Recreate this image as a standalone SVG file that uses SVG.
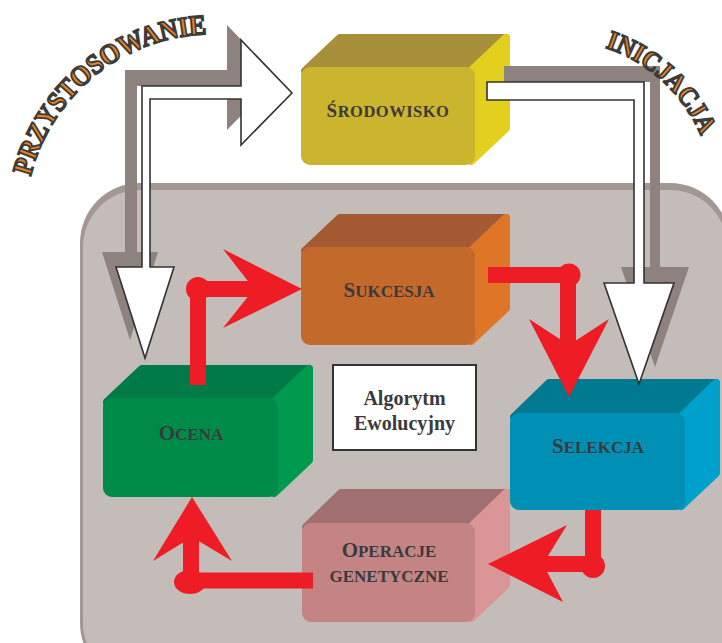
<svg xmlns="http://www.w3.org/2000/svg" width="722" height="643" viewBox="0 0 722 643">
<style>
.f{stroke-width:8;stroke-linejoin:round}
.lbl{font-family:"Liberation Serif","Times New Roman",serif;font-weight:bold;fill:#3a3a3c;text-anchor:middle}
.arc{font-family:"Liberation Serif","Times New Roman",serif;font-weight:bold;fill:#e8801e;stroke:#3b3b3b;stroke-width:1.9}
.wa{fill:#ffffff;stroke:#333333;stroke-width:1.6;stroke-linejoin:miter}
.ga{fill:#8d827e}
.red{fill:#ee1c24}
.rl{fill:none;stroke:#ee1c24;stroke-width:16}
</style>
<defs>
<path id="arcL" d="M 30.6,176.5 A 188,188 0 0,1 206.4,34.1"/>
<path id="arcR" d="M 605.2,47.6 A 156,156 0 0,1 701.6,137.6"/>
</defs>
<rect width="722" height="643" fill="#ffffff"/>
<g id="panel">
<rect x="80" y="183" width="650" height="500" rx="60" fill="#a39793"/>
<rect x="83" y="190" width="644" height="490" rx="57" fill="#c4bcb9"/>
</g>
<g id="srodowisko" transform="translate(301,67)">
<polygon class="f" points="4,4 39,-29 205,-29 170,4" fill="#a8903a" stroke="#a8903a"/>
<polygon class="f" points="170,4 205,-29 205,61 170,94" fill="#e2cf1e" stroke="#e2cf1e"/>
<rect width="174" height="98" rx="9" fill="#cbb42e"/>
<text class="lbl" x="87" y="50" letter-spacing="0.5"><tspan font-size="19">Ś</tspan><tspan font-size="16.5">RODOWISKO</tspan></text>
</g>
<g id="sukcesja" transform="translate(301,247)">
<polygon class="f" points="4,4 39,-29 205,-29 170,4" fill="#a45b33" stroke="#a45b33"/>
<polygon class="f" points="170,4 205,-29 205,61 170,94" fill="#de7527" stroke="#de7527"/>
<rect width="174" height="98" rx="9" fill="#c4692c"/>
<text class="lbl" x="88" y="50"><tspan font-size="21">S</tspan><tspan font-size="17">UKCESJA</tspan></text>
</g>
<g id="ocena" transform="translate(103,398)">
<polygon class="f" points="4,4 39,-29 206,-29 171,4" fill="#007a47" stroke="#007a47"/>
<polygon class="f" points="171,4 206,-29 206,62 171,95" fill="#009a4e" stroke="#009a4e"/>
<rect width="175" height="99" rx="9" fill="#008a48"/>
<text class="lbl" x="88" y="42"><tspan font-size="21">O</tspan><tspan font-size="17">CENA</tspan></text>
</g>
<g id="selekcja" transform="translate(510,413)">
<polygon class="f" points="4,4 39,-30 206,-30 171,4" fill="#007a90" stroke="#007a90"/>
<polygon class="f" points="171,4 206,-30 206,60 171,93" fill="#00a0cc" stroke="#00a0cc"/>
<rect width="175" height="97" rx="9" fill="#008fb5"/>
<text class="lbl" x="88" y="40"><tspan font-size="21">S</tspan><tspan font-size="17">ELEKCJA</tspan></text>
</g>
<g id="operacje" transform="translate(302,523)">
<polygon class="f" points="4,4 39,-30 204,-30 169,4" fill="#a07070" stroke="#a07070"/>
<polygon class="f" points="169,4 204,-30 204,62 169,95" fill="#da9697" stroke="#da9697"/>
<rect width="173" height="99" rx="9" fill="#c38483"/>
<text class="lbl" x="87" y="34"><tspan font-size="21">O</tspan><tspan font-size="17">PERACJE</tspan></text>
<text class="lbl" x="87" y="59" font-size="17">GENETYCZNE</text>
</g>
<g id="algorytm">
<rect x="333" y="365" width="143" height="85" fill="#ffffff" stroke="#333333" stroke-width="2"/>
<text class="lbl" x="404.5" y="405" font-size="20">Algorytm</text>
<text class="lbl" x="404.5" y="430" font-size="20">Ewolucyjny</text>
</g>
<g id="connectors">
<path class="ga" d="M 125,70 L 227,70 L 227,25 L 278,78 L 227,130 L 227,86 L 137,86 L 137,252 L 158,252 L 130,340 L 102,252 L 125,252 Z"/>
<path class="wa" d="M 142,86 L 241,86 L 241,40 L 292,93 L 241,145 L 241,99 L 150,99 L 150,267 L 174,267 L 145,358 L 116,267 L 142,267 Z"/>
<path class="ga" d="M 504,66 L 660,66 L 660,267 L 689,267 L 655,367 L 621,267 L 650,267 L 650,82 L 504,82 Z"/>
<path class="wa" d="M 487,82 L 644,82 L 644,283 L 674,283 L 639,384 L 604,283 L 634,283 L 634,100 L 487,100 Z"/>
<path class="rl" d="M 198,385 L 198,289 L 256,289"/>
<circle class="red" cx="198" cy="289" r="12"/>
<polygon class="red" points="302,289 223,249 254,289 223,328"/>
<path class="rl" d="M 488,275 L 568,275 L 568,350"/>
<circle class="red" cx="569" cy="275" r="11.5"/>
<polygon class="red" points="569,397 529,319 569,345 609,319"/>
<path class="rl" d="M 593,510 L 593,564 L 538,564"/>
<circle class="red" cx="593" cy="566" r="12"/>
<polygon class="red" points="488,564 567,525 543,564 563,602"/>
<path class="rl" d="M 313,580.5 L 191,580.5 L 191,534"/>
<ellipse class="red" cx="190" cy="582" rx="16" ry="12"/>
<polygon class="red" points="192,497 232,561 192,537 153,561"/>
</g>
<g id="labels">
<text class="arc" font-size="28"><textPath href="#arcL" textLength="243" lengthAdjust="spacingAndGlyphs">PRZYSTOSOWANIE</textPath></text>
<text class="arc" font-size="27"><textPath href="#arcR" textLength="134" lengthAdjust="spacingAndGlyphs">INICJACJA</textPath></text>
</g>
</svg>
